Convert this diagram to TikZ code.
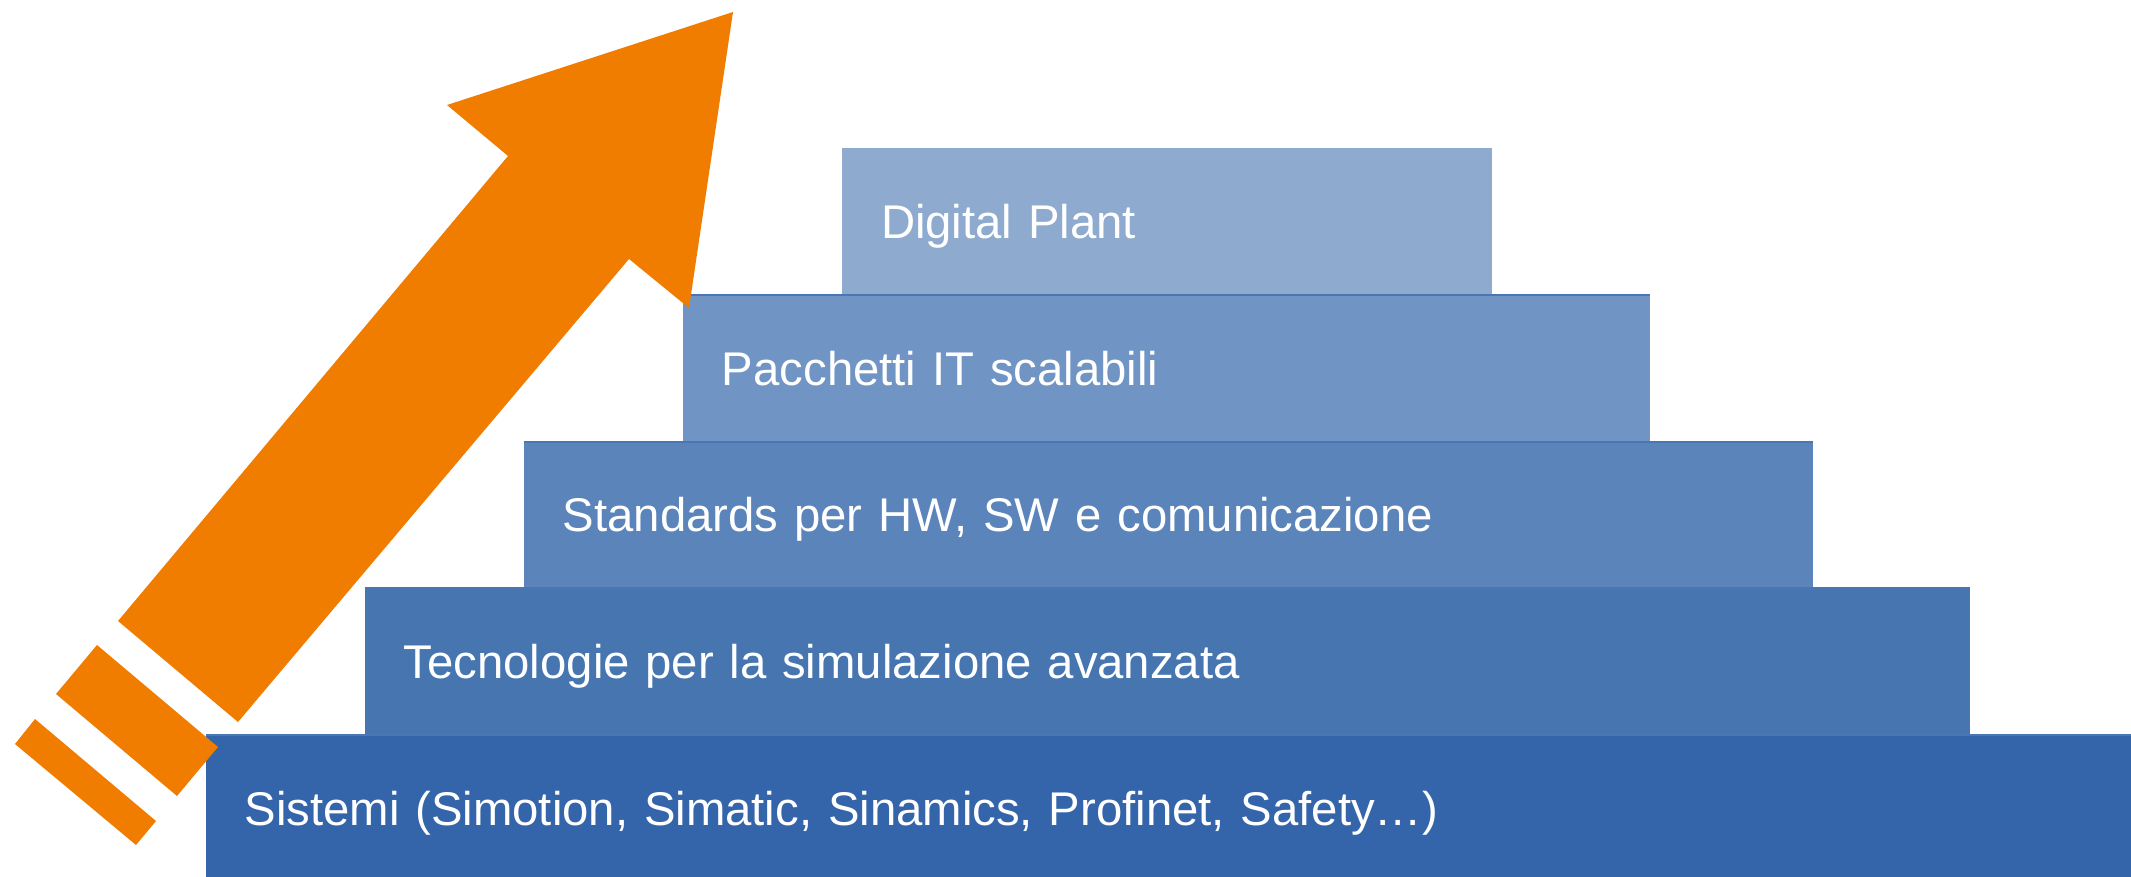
\documentclass[tikz,border=0pt]{standalone}
\usepackage{fontspec}
\setmainfont{Liberation Sans}
\usepackage{tikz}
\usetikzlibrary{positioning}

\definecolor{stepA}{HTML}{8FAACF}
\definecolor{stepB}{HTML}{7095C5}
\definecolor{stepC}{HTML}{5B84BA}
\definecolor{stepD}{HTML}{4675B0}
\definecolor{stepE}{HTML}{3465AA}
\definecolor{edgeblue}{HTML}{4A77B4}
\definecolor{arroworange}{HTML}{F07C00}

\tikzset{
    stepbox/.style={rectangle, anchor=north west, inner xsep=0.39cm, inner ysep=0pt, outer sep=0pt,
        minimum height=1.467cm, text height=0.34cm, text depth=0pt, align=left,
        text=white, font=\fontsize{13.45}{16}\selectfont},
    topedge/.style={line width=0.6pt, edgeblue}
}

\begin{document}
\begin{tikzpicture}[x=0.01cm, y=-0.01cm]

    \useasboundingbox (0,0) rectangle (2131,876);

    % Steps of the staircase, from the top down
    \node (digital) [stepbox, fill=stepA, text width=5.72cm] at (842,148) {Digital Plant};
    \node (pacchetti) [stepbox, fill=stepB, text width=8.89cm, below=0pt of digital.south west, anchor=north west, xshift=-1.59cm] {Pacchetti IT scalabili};
    \node (standards) [stepbox, fill=stepC, text width=12.10cm, below=0pt of pacchetti.south west, anchor=north west, xshift=-1.59cm] {Standards per HW, SW e comunicazione};
    \node (tecnologie) [stepbox, fill=stepD, text width=15.26cm, below=0pt of standards.south west, anchor=north west, xshift=-1.59cm] {Tecnologie per la simulazione avanzata};
    \node (sistemi) [stepbox, fill=stepE, text width=18.56cm, below=0pt of tecnologie.south west, anchor=north west, xshift=-1.59cm] {Sistemi (Simotion, Simatic, Sinamics, Profinet, Safety…)};

    % Thin darker edges on top of the lower steps
    \draw[topedge] (pacchetti.north west) -- (pacchetti.north east);
    \draw[topedge] (standards.north west) -- (standards.north east);
    \draw[topedge] (tecnologie.north west) -- (tecnologie.north east);
    \draw[topedge] (sistemi.north west) -- (sistemi.north east);

    % Orange arrow rising along the steps
    \fill[arroworange] (733,12) -- (689,308) -- (629,259) -- (238,722) -- (118,621)
        -- (508,156) -- (447,105) -- cycle;
    \fill[arroworange] (97,645) -- (218,747) -- (177,796) -- (56,694) -- cycle;
    \fill[arroworange] (35,719) -- (156,821) -- (136,845) -- (15,744) -- cycle;

\end{tikzpicture}
\end{document}
